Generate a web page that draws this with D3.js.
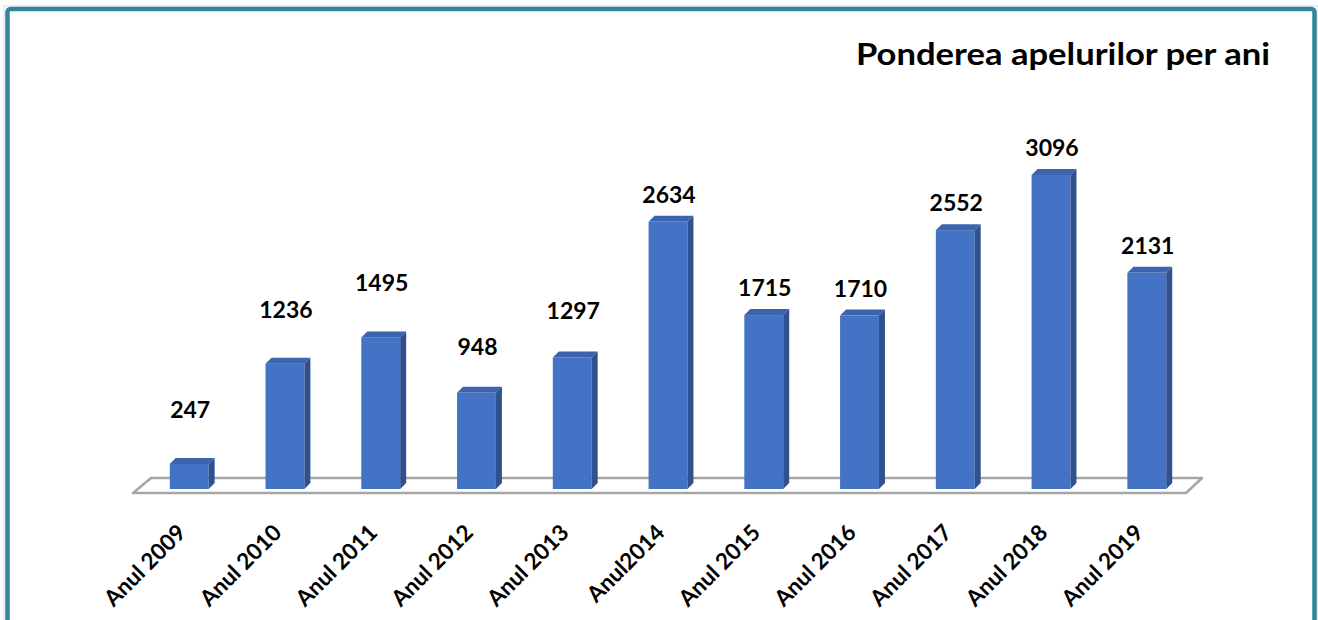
<!DOCTYPE html>
<meta charset="utf-8">
<style>
  body { margin: 0; background: #fff; }
  svg { display: block; }
  text { font-family: Lato, "Open Sans", sans-serif; font-weight: bold; fill: #000; }
</style>
<svg width="1318" height="620"></svg>
<script src="https://d3js.org/d3.v7.min.js"></script>
<script>

// date
var ani = ["Anul 2009", "Anul 2010", "Anul 2011", "Anul 2012", "Anul 2013", "Anul2014",
           "Anul 2015", "Anul 2016", "Anul 2017", "Anul 2018", "Anul 2019"];
var apeluri = [247, 1236, 1495, 948, 1297, 2634, 1715, 1710, 2552, 3096, 2131];
var titlu = "Ponderea apelurilor per ani";

var svg = d3.select("svg");

// chenarul
svg.append("rect")
    .attr("x", 4).attr("y", 6).attr("width", 1314).attr("height", 640)
    .attr("fill", "none").attr("stroke", "#d9d9d9").attr("stroke-width", 1);
svg.append("rect")
    .attr("x", 7.5).attr("y", 9).attr("width", 1307).attr("height", 640).attr("rx", 3)
    .attr("fill", "#fff").attr("stroke", "#31859c").attr("stroke-width", 4.5);

// titlu
svg.append("text")
    .attr("x", 856).attr("y", 65)
    .attr("textLength", 414)
    .attr("lengthAdjust", "spacingAndGlyphs")
    .style("font-size", "30px")
    .text(titlu);

// scale
var x0 = 142, x1 = 1194;
var x = d3.scaleBand().domain(ani).range([x0, x1]).paddingInner(0.594).paddingOuter(0.29);
var y = d3.scaleLinear().domain([0, 3096]).range([489, 175]);

var dx = 6, dy = 6; // adancimea 3D

// podeaua
var floor = d3.path();
floor.moveTo(x0 - 9, 493);
floor.lineTo(x0 + 9, 478);
floor.lineTo(x1 + 8, 478);
floor.lineTo(x1 - 8, 493);
floor.closePath();
svg.append("path").attr("d", floor.toString())
    .attr("fill", "#fff").attr("stroke", "#a6a6a6").attr("stroke-width", 2.5)
    .attr("stroke-linejoin", "round");

var date = ani.map((a, i) => ({an: a, v: apeluri[i], i: i}));

var bare = svg.append("g").selectAll("g").data(date).enter().append("g");

// fata
bare.append("rect")
    .attr("x", d => x(d.an))
    .attr("y", d => y(d.v))
    .attr("width", x.bandwidth())
    .attr("height", d => y(0) - y(d.v))
    .attr("fill", "#4472c4");

// partea de sus
bare.append("path")
    .attr("d", d => {
      var a = x(d.an), b = a + x.bandwidth(), t = y(d.v);
      return `M${a},${t}L${b},${t}L${b + dx},${t - dy}L${a + dx},${t - dy}Z`;
    })
    .attr("fill", "#3c64ad");

// partea laterala
bare.append("path")
    .attr("d", d => {
      var b = x(d.an) + x.bandwidth(), t = y(d.v), z = y(0);
      return `M${b},${t}L${b + dx},${t - dy}L${b + dx},${z - dy}L${b},${z}Z`;
    })
    .attr("fill", "#2f528f");

// etichete valori
bare.append("text")
    .attr("x", d => x(d.an) + x.bandwidth() / 2 + 1)
    .attr("y", d => y(d.v) - (d.i < 3 ? 46 : d.i < 5 ? 38 : 19))
    .attr("text-anchor", "middle")
    .style("font-size", "23px")
    .text(d => d.v);

// etichete axa x
svg.append("g").selectAll("text").data(ani).enter().append("text")
    .attr("transform", d => `translate(${x(d) + x.bandwidth() / 2 - 2},534) rotate(-45)`)
    .attr("text-anchor", "end")
    .style("font-size", "22.5px")
    .text(d => d);

</script>
